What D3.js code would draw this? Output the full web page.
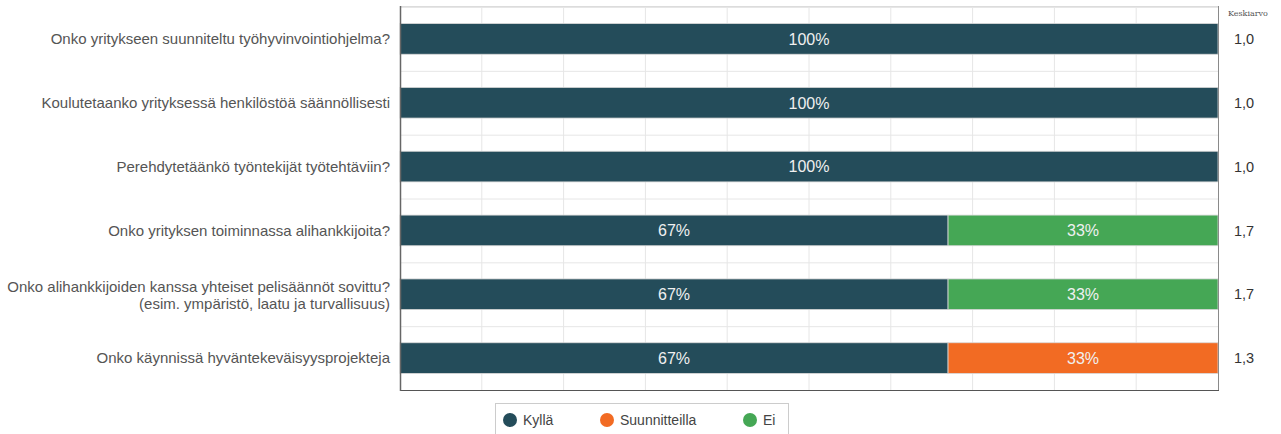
<!DOCTYPE html>
<html>
<head>
<meta charset="utf-8">
<script src="https://cdn.jsdelivr.net/npm/d3@7"></script>
<style>
  body { margin: 0; background: #fff; }
  svg { display: block; font-family: "Liberation Sans", Arial, sans-serif; }
</style>
</head>
<body>
<svg id="chart"></svg>
<script>
const w = 1281;
const h = 434;

// questions (label lines)
const questions = [
  ['Onko yritykseen suunniteltu työhyvinvointiohjelma?'],
  ['Koulutetaanko yrityksessä henkilöstöä säännöllisesti'],
  ['Perehdytetäänkö työntekijät työtehtäviin?'],
  ['Onko yrityksen toiminnassa alihankkijoita?'],
  ['Onko alihankkijoiden kanssa yhteiset pelisäännöt sovittu?', '(esim. ympäristö, laatu ja turvallisuus)'],
  ['Onko käynnissä hyväntekeväisyysprojekteja'],
];

const seriesNames = ['Kyllä', 'Suunnitteilla', 'Ei'];
const seriesColors = ['#244c5a', '#f26b23', '#45a755'];

const kylla = [100, 100, 100, 67, 67, 67];
const suunnitteilla = [0, 0, 0, 0, 0, 33];
const ei = [0, 0, 0, 33, 33, 0];

const keskiarvo = ['1,0', '1,0', '1,0', '1,7', '1,7', '1,3'];

const margin = { top: 7, right: 63, bottom: 44, left: 400 };

const svg = d3.select('#chart').attr('width', w).attr('height', h);

const x = d3.scaleLinear().domain([0, 100]).range([margin.left, w - margin.right]);
const y = d3.scaleBand()
  .domain(d3.range(questions.length))
  .range([margin.top, h - margin.bottom])
  .paddingInner(0.52)
  .paddingOuter(0.26);
const band = d3.scaleBand()
  .domain(d3.range(questions.length))
  .range([margin.top, h - margin.bottom]);

// grid
svg.append('g')
  .selectAll('line')
  .data(d3.range(10, 100, 10))
  .enter()
  .append('line')
  .attr('x1', (d) => x(d)).attr('x2', (d) => x(d))
  .attr('y1', margin.top).attr('y2', h - margin.bottom)
  .attr('stroke', '#e6e6e6');

svg.append('g')
  .selectAll('line')
  .data(d3.range(0, questions.length))
  .enter()
  .append('line')
  .attr('x1', x(0)).attr('x2', x(100))
  .attr('y1', (d) => band(d) + 0.5).attr('y2', (d) => band(d) + 0.5)
  .attr('stroke', '#e6e6e6');

// stacked bars
const rows = questions.map((q, i) => ({ i: i, values: [kylla[i], suunnitteilla[i], ei[i]] }));
const stack = d3.stack().keys([0, 1, 2]).value((d, k) => d.values[k]);
const layers = stack(rows);

layers.forEach((layer, k) => {
  const g = svg.append('g');
  g.selectAll('rect')
    .data(layer.filter((d) => d[1] > d[0]))
    .enter()
    .append('rect')
    .attr('x', (d) => x(d[0]))
    .attr('width', (d) => x(d[1]) - x(d[0]))
    .attr('y', (d) => y(d.data.i))
    .attr('height', y.bandwidth())
    .attr('fill', seriesColors[k])
    .attr('stroke', '#d8d8d8')
    .attr('stroke-width', 0.8);

  g.selectAll('text')
    .data(layer.filter((d) => d[1] > d[0]))
    .enter()
    .append('text')
    .attr('x', (d) => (x(d[0]) + x(d[1])) / 2)
    .attr('y', (d) => y(d.data.i) + y.bandwidth() / 2)
    .attr('dy', '0.36em')
    .attr('text-anchor', 'middle')
    .attr('fill', '#f0f0f0')
    .style('font-size', '16px')
    .text((d) => d[1] - d[0] + '%');
});

// frame
svg.append('line')
  .attr('x1', x(0)).attr('x2', x(100))
  .attr('y1', margin.top - 0.5).attr('y2', margin.top - 0.5)
  .attr('stroke', '#dcdcdc');
svg.append('line')
  .attr('x1', x(100) + 0.5).attr('x2', x(100) + 0.5)
  .attr('y1', margin.top - 1).attr('y2', h - margin.bottom)
  .attr('stroke', '#8a8a8a');
svg.append('line')
  .attr('x1', x(0)).attr('x2', x(100) + 1)
  .attr('y1', h - margin.bottom + 0.5).attr('y2', h - margin.bottom + 0.5)
  .attr('stroke', '#555');
svg.append('line')
  .attr('x1', x(0) + 0.5).attr('x2', x(0) + 0.5)
  .attr('y1', margin.top - 1).attr('y2', h - margin.bottom + 1)
  .attr('stroke', '#666')
  .attr('stroke-width', 1.5);

// category labels
const labels = svg.append('g')
  .selectAll('text')
  .data(questions)
  .enter()
  .append('text')
  .attr('text-anchor', 'end')
  .attr('fill', '#555')
  .style('font-size', '15px')
  .attr('y', (d, i) => y(i) + y.bandwidth() / 2 - (d.length - 1) * 7.5);

labels.selectAll('tspan')
  .data((d) => d)
  .enter()
  .append('tspan')
  .attr('x', 390)
  .attr('dy', (d, j) => (j === 0 ? '0.36em' : '17px'))
  .text((d) => d);

// averages
svg.append('text')
  .attr('x', 1228)
  .attr('y', 16)
  .attr('fill', '#555')
  .style('font-family', '"DejaVu Serif", "Liberation Serif", serif')
  .style('font-size', '8px')
  .text('Keskiarvo');

svg.append('g')
  .selectAll('text')
  .data(keskiarvo)
  .enter()
  .append('text')
  .attr('x', 1234)
  .attr('y', (d, i) => y(i) + y.bandwidth() / 2)
  .attr('dy', '0.36em')
  .attr('fill', '#333')
  .style('font-size', '14.5px')
  .text((d) => d);

// legend
const legend = svg.append('g');
legend.append('rect')
  .attr('x', 495.5).attr('y', 403.5)
  .attr('width', 293).attr('height', 40)
  .attr('fill', '#fff')
  .attr('stroke', '#ccc');

const legendX = [510, 607, 750];
seriesNames.forEach((name, k) => {
  legend.append('circle')
    .attr('cx', legendX[k]).attr('cy', 420)
    .attr('r', 7)
    .attr('fill', seriesColors[k]);
  legend.append('text')
    .attr('x', legendX[k] + 13).attr('y', 420)
    .attr('dy', '0.36em')
    .attr('fill', '#444')
    .style('font-size', '14px')
    .text(name);
});
</script>
</body>
</html>
